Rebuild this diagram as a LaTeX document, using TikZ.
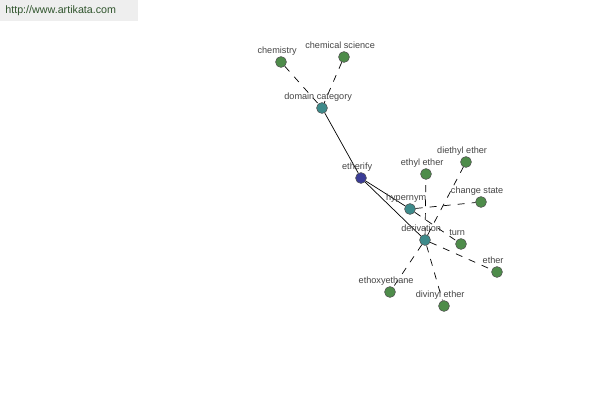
\documentclass[tikz,border=0pt]{standalone}
\usepackage{fontspec}
\setmainfont{Liberation Sans}
\definecolor{leafgreen}{HTML}{4E8C4A}
\definecolor{midteal}{HTML}{3E8B8B}
\definecolor{rootblue}{HTML}{3A3C96}
\definecolor{labelgray}{HTML}{444444}
\definecolor{markgray}{HTML}{EEEEEE}

\begin{document}
\begin{tikzpicture}[x=0.02cm,y=-0.02cm]
  \useasboundingbox (0,0) rectangle (600,400);
  \fill[markgray] (0,0) rectangle (138,21);
  \node[anchor=west,text=leafgreen!60!black,font=\fontsize{6.1}{7}\selectfont,inner sep=0pt]
    (mark) at (5,11) {http://www.artikata.com};
  \begin{scope}[
    every node/.style={
      circle,
      draw=black!70,
      line width=0.3pt,
      minimum size=6.2pt,
      inner sep=0pt,
    },
    leaf/.style={fill=leafgreen},
    mid/.style={fill=midteal},
    root/.style={fill=rootblue},
    ]
    \node[root] (etherify) at (361,178) {};
    \node[mid]  (domain)   at (322,108) {};
    \node[mid]  (hypernym) at (410,209) {};
    \node[mid]  (deriv)    at (425,240) {};
    \foreach \name/\x/\y in {chemistry/281/62, chemsci/344/57,
      ethyl/426/174, diethyl/466/162, change/481/202, turn/461/244,
      ether/497/272, ethoxy/390/292, divinyl/444/306}{
      \node[leaf] (\name) at (\x,\y) {};
    };
  \end{scope}
  \begin{scope}[every path/.style={draw,line width=0.4pt}]
    \path (domain) -- (etherify);
    \path (etherify) -- (hypernym);
    \path (etherify) -- (deriv);
    \foreach \a/\b in {chemistry/domain, chemsci/domain, hypernym/change,
      hypernym/turn, deriv/ethyl, deriv/diethyl, deriv/ether,
      deriv/ethoxy, deriv/divinyl}{
      \path[dash pattern=on 4pt off 4pt] (\a) -- (\b);
    }
  \end{scope}
  \begin{scope}[every node/.style={text=labelgray,font=\fontsize{5.2}{6}\selectfont,
      inner sep=0pt,anchor=base}]
    \foreach \name/\text in {chemistry/chemistry, chemsci/chemical science,
      domain/domain category, etherify/etherify, ethyl/ethyl ether,
      diethyl/diethyl ether, hypernym/hypernym, change/change state,
      deriv/derivation, turn/turn, ether/ether, ethoxy/ethoxyethane,
      divinyl/divinyl ether}{
      \node (\name-label) at ([xshift=-2.2pt,yshift=5.1pt]\name.center) {\text};
    }
  \end{scope}
\end{tikzpicture}
\end{document}
